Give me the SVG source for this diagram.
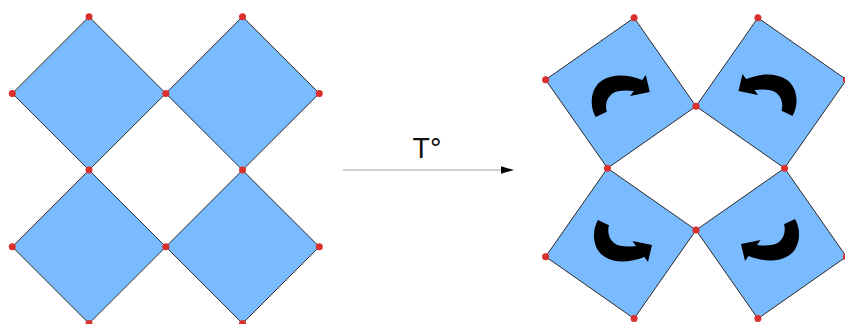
<svg xmlns="http://www.w3.org/2000/svg" xmlns:xlink="http://www.w3.org/1999/xlink" width="845" height="324" viewBox="0 0 845 324">
<style>
.sq{fill:#7abaff;stroke:#2b2b2b;stroke-width:1;stroke-linejoin:miter}
.dot{fill:#d9302c}
.rot{fill:#000}
.lbl{font-family:"DejaVu Sans","Liberation Sans",sans-serif;font-size:26px;fill:#111}
</style>
<defs>
<path id="cw" class="rot" d="M -25,24 C -32,12 -30,-6 -18,-13 C -8,-19 6,-19 21.4,-13.1 L 25,-17.9 L 29,-1 L 9.4,2.9 L 13,-1.9 C 6,-3 -4,-3 -9,1 C -14,5 -16,12 -14,18.7 Z"/>
<marker id="ah" markerWidth="13" markerHeight="8" refX="13" refY="4" orient="auto" markerUnits="userSpaceOnUse">
<path d="M0,0 L13,4 L0,8 Z" fill="#000"/>
</marker>
</defs>
<rect width="845" height="324" fill="#fff"/>
<g id="before">
<g id="sq-a1"><polygon class="sq" points="89,16.7 165.8,93.4 89,170.1 12.3,93.4"/></g>
<g id="sq-a2"><polygon class="sq" points="242.5,16.7 319.3,93.4 242.5,170.1 165.8,93.4"/></g>
<g id="sq-a3"><polygon class="sq" points="89,170.1 165.8,246.8 89,323.5 12.3,246.8"/></g>
<g id="sq-a4"><polygon class="sq" points="242.5,170.1 319.3,246.8 242.5,323.5 165.8,246.8"/></g>
<g id="dots-a">
<circle class="dot" cx="89" cy="16.7" r="3.5"/><circle class="dot" cx="242.5" cy="16.7" r="3.5"/>
<circle class="dot" cx="12.3" cy="93.4" r="3.5"/><circle class="dot" cx="165.8" cy="93.4" r="3.5"/><circle class="dot" cx="319.3" cy="93.4" r="3.5"/>
<circle class="dot" cx="89" cy="170.1" r="3.5"/><circle class="dot" cx="242.5" cy="170.1" r="3.5"/>
<circle class="dot" cx="12.3" cy="246.8" r="3.5"/><circle class="dot" cx="165.8" cy="246.8" r="3.5"/><circle class="dot" cx="319.3" cy="246.8" r="3.5"/>
<circle class="dot" cx="89" cy="323.5" r="3.5"/><circle class="dot" cx="242.5" cy="323.5" r="3.5"/>
</g>
</g>
<g id="connectors">
<line x1="343" y1="170" x2="513.5" y2="170" stroke="#a0a0a0" stroke-width="1" marker-end="url(#ah)"/>
<text class="lbl" x="427.7" y="158.3" text-anchor="middle">T°</text>
</g>
<g id="after">
<g id="sq-b1"><polygon class="sq" points="634.1,17.8 696,106.3 607.5,168.2 545.6,79.7"/><use xlink:href="#cw" transform="translate(620.8,93)"/></g>
<g id="sq-b2"><polygon class="sq" points="757.9,17.8 846.4,79.7 784.5,168.2 696,106.3"/><use xlink:href="#cw" transform="translate(767.5,92) scale(-1,1)"/></g>
<g id="sq-b3"><polygon class="sq" points="607.5,168.2 696,230.1 634.1,318.6 545.6,256.7"/><use xlink:href="#cw" transform="translate(623,244) scale(1,-1)"/></g>
<g id="sq-b4"><polygon class="sq" points="784.5,168.2 846.4,256.7 757.9,318.6 696,230.1"/><use xlink:href="#cw" transform="translate(770,243) scale(-1,-1)"/></g>
<g id="dots-b">
<circle class="dot" cx="634.1" cy="17.8" r="3.5"/><circle class="dot" cx="757.9" cy="17.8" r="3.5"/>
<circle class="dot" cx="545.6" cy="79.7" r="3.5"/><circle class="dot" cx="846.4" cy="79.7" r="3.5"/>
<circle class="dot" cx="696" cy="106.3" r="3.5"/>
<circle class="dot" cx="607.5" cy="168.2" r="3.5"/><circle class="dot" cx="784.5" cy="168.2" r="3.5"/>
<circle class="dot" cx="696" cy="230.1" r="3.5"/>
<circle class="dot" cx="545.6" cy="256.7" r="3.5"/><circle class="dot" cx="846.4" cy="256.7" r="3.5"/>
<circle class="dot" cx="634.1" cy="318.6" r="3.5"/><circle class="dot" cx="757.9" cy="318.6" r="3.5"/>
</g>
</g>
</svg>
